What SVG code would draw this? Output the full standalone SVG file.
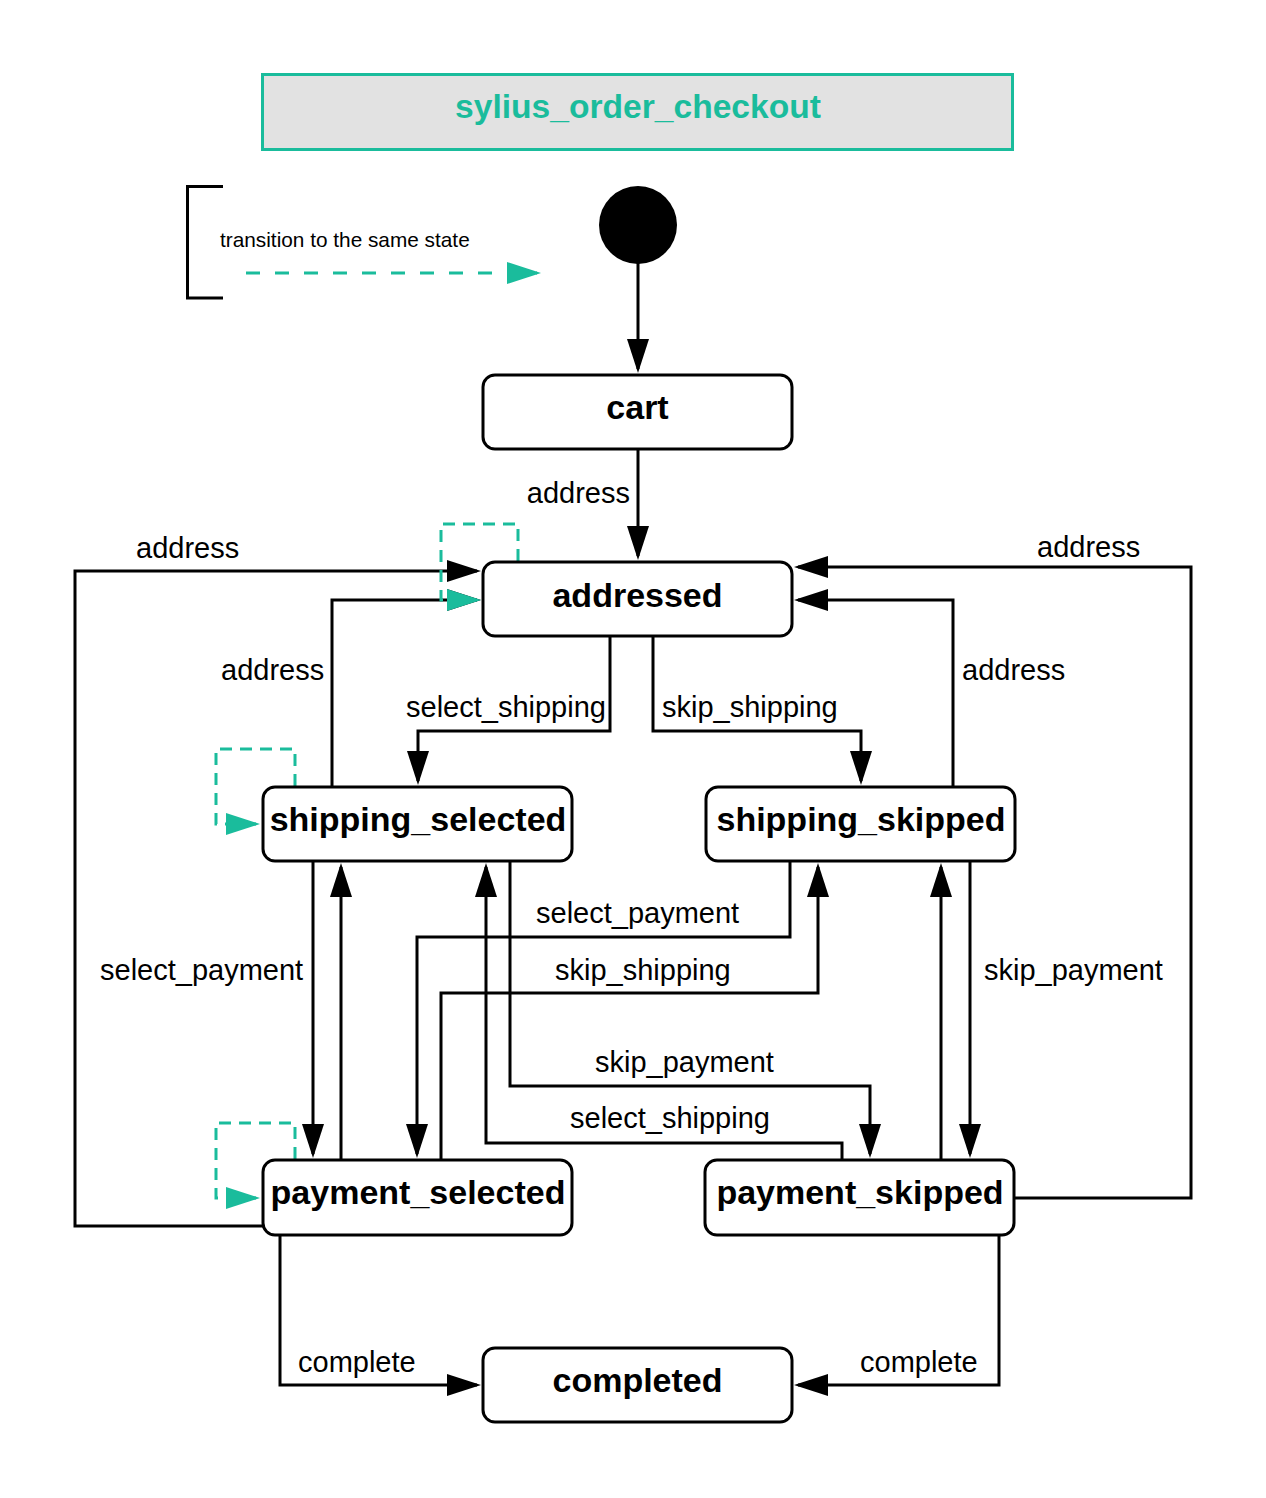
<svg xmlns="http://www.w3.org/2000/svg" width="1266" height="1498" viewBox="0 0 1266 1498">
<style>
.node rect{fill:#fff;stroke:#000;stroke-width:3}
.node text{font-family:"Liberation Sans",Arial,sans-serif;font-weight:bold;font-size:34px;text-anchor:middle;fill:#000}
.edge{fill:none;stroke:#000;stroke-width:3;marker-end:url(#ab)}
.loop{fill:none;stroke:#1abc9c;stroke-width:3;stroke-dasharray:12 8;marker-end:url(#at)}
.lbl{font-family:"Liberation Sans",Arial,sans-serif;font-size:29px;fill:#000}
</style>
<defs>
<marker id="ab" markerUnits="userSpaceOnUse" markerWidth="34" markerHeight="22" refX="30" refY="11" orient="auto" viewBox="0 0 34 22"><path d="M0,0 L34,11 L0,22 z" fill="#000"/></marker>
<marker id="at" markerUnits="userSpaceOnUse" markerWidth="34" markerHeight="22" refX="30" refY="11" orient="auto" viewBox="0 0 34 22"><path d="M0,0 L34,11 L0,22 z" fill="#1abc9c"/></marker>
</defs>
<rect width="1266" height="1498" fill="#fff"/>
<g id="title">
<rect x="262.5" y="74.5" width="750" height="75" fill="#e2e2e2" stroke="#1abc9c" stroke-width="3"/>
<text x="638" y="118" font-family="Liberation Sans,Arial,sans-serif" font-weight="bold" font-size="33.6" fill="#1abc9c" text-anchor="middle">sylius_order_checkout</text>
</g>
<g id="legend">
<path d="M223,186.5 H187.5 V298 H223" fill="none" stroke="#000" stroke-width="3"/>
<text x="220" y="247" font-family="Liberation Sans,Arial,sans-serif" font-size="20.8" fill="#000">transition to the same state</text>
<path class="loop" style="stroke-dasharray:14 15" d="M246,273 H537"/>
</g>
<g id="initial">
<circle cx="638" cy="225" r="39" fill="#000"/>
</g>
<g id="connectors">
<path class="edge" d="M638,262 V369"/>
<path class="edge" d="M638,450 V556"/>
<path class="edge" d="M610,637 V731 H418 V781"/>
<path class="edge" d="M653,637 V731 H861 V781"/>
<path class="edge" d="M332,786 V600 H477"/>
<path class="edge" d="M953,786 V600 H798"/>
<path class="edge" d="M263,1226 H75 V571 H477"/>
<path class="edge" d="M1015,1198 H1191 V567 H798"/>
<path class="edge" d="M313,862 V1154"/>
<path class="edge" d="M341,1159 V867"/>
<path class="edge" d="M510,862 V1086 H870 V1154"/>
<path class="edge" d="M842,1159 V1143 H486 V867"/>
<path class="edge" d="M790,862 V937 H417 V1154"/>
<path class="edge" d="M441,1159 V993 H818 V867"/>
<path class="edge" d="M941,1159 V867"/>
<path class="edge" d="M970,862 V1154"/>
<path class="edge" d="M280,1236 V1385 H477"/>
<path class="edge" d="M999,1236 V1385 H798"/>
<path class="loop" d="M518,561 V524 H441 V600 H477"/>
<path class="loop" d="M295,786 V749 H216 V824 H256"/>
<path class="loop" d="M295,1159 V1123 H216 V1198 H256"/>
<text class="lbl" x="630" y="503" text-anchor="end">address</text>
<text class="lbl" x="136" y="558">address</text>
<text class="lbl" x="1037" y="557">address</text>
<text class="lbl" x="221" y="680">address</text>
<text class="lbl" x="962" y="680">address</text>
<text class="lbl" x="406" y="717">select_shipping</text>
<text class="lbl" x="662" y="717">skip_shipping</text>
<text class="lbl" x="536" y="923">select_payment</text>
<text class="lbl" x="100" y="980">select_payment</text>
<text class="lbl" x="555" y="980">skip_shipping</text>
<text class="lbl" x="984" y="980">skip_payment</text>
<text class="lbl" x="595" y="1072">skip_payment</text>
<text class="lbl" x="570" y="1128">select_shipping</text>
<text class="lbl" x="298" y="1372">complete</text>
<text class="lbl" x="860" y="1372">complete</text>
</g>
<g id="cart" class="node"><rect x="483" y="375" width="309" height="74" rx="12"/><text x="637.5" y="419">cart</text></g>
<g id="addressed" class="node"><rect x="483" y="562" width="309" height="74" rx="12"/><text x="637.5" y="607">addressed</text></g>
<g id="shipping_selected" class="node"><rect x="263" y="787" width="309" height="74" rx="12"/><text x="418" y="831">shipping_selected</text></g>
<g id="shipping_skipped" class="node"><rect x="706" y="787" width="309" height="74" rx="12"/><text x="861" y="831">shipping_skipped</text></g>
<g id="payment_selected" class="node"><rect x="263" y="1160" width="309" height="75" rx="12"/><text x="418" y="1204">payment_selected</text></g>
<g id="payment_skipped" class="node"><rect x="705" y="1160" width="309" height="75" rx="12"/><text x="860" y="1204">payment_skipped</text></g>
<g id="completed" class="node"><rect x="483" y="1348" width="309" height="74" rx="12"/><text x="637.5" y="1392">completed</text></g>
</svg>
